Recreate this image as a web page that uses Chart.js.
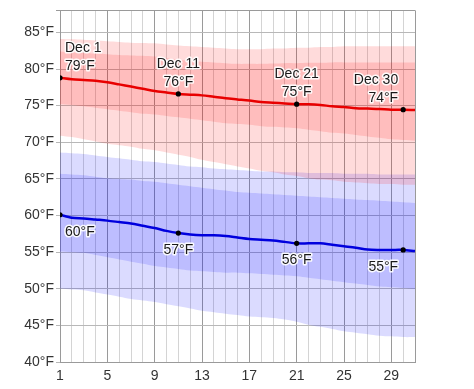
<!DOCTYPE html>
<html>
<head>
<meta charset="utf-8">
<script src="https://cdn.jsdelivr.net/npm/chart.js@4.4.1/dist/chart.umd.min.js"></script>
<style>
  html, body { margin: 0; padding: 0; background: #fff; }
  #chart { display: block; }
</style>
</head>
<body>
<canvas id="chart" width="474" height="389"></canvas>
<script>
// days of December
const days = [];
for (let d = 1; d <= 31; d++) days.push(d);

// average daily high / low (°F)
const highAvg = [78.8,78.6,78.5,78.4,78.2,77.9,77.6,77.3,77.0,76.8,76.6,76.5,76.4,76.2,76.0,75.85,75.7,75.5,75.4,75.3,75.2,75.2,75.1,74.9,74.8,74.65,74.6,74.55,74.45,74.45,74.4];
const lowAvg = [60.1,59.7,59.6,59.45,59.3,59.1,58.9,58.6,58.3,57.9,57.6,57.4,57.3,57.3,57.2,57.0,56.8,56.7,56.6,56.4,56.2,56.2,56.2,56.0,55.8,55.6,55.35,55.3,55.3,55.3,55.15];

// percentile bands
const highP90 = [84.1,84.05,84.0,83.9,83.8,83.7,83.6,83.55,83.5,83.35,83.2,83.1,83.0,82.9,82.8,82.7,82.7,82.7,82.8,82.8,82.9,82.9,83.0,83.0,83.1,83.1,83.1,83.1,83.1,83.1,83.1];
const highP75 = [82.4,82.3,82.2,82.1,82.0,81.9,81.85,81.8,81.7,81.5,81.3,81.1,81.0,80.9,80.8,80.7,80.7,80.7,80.75,80.8,80.8,80.85,80.85,80.9,80.9,80.9,80.9,80.9,80.9,80.9,80.9];
const highP25 = [75.2,75.1,74.9,74.7,74.5,74.3,74.1,73.9,73.8,73.6,73.4,73.2,73.0,72.8,72.6,72.5,72.4,72.2,72.1,72.0,71.9,71.7,71.5,71.3,71.2,71.0,70.8,70.6,70.4,70.3,70.2];
const highP10 = [70.9,70.7,70.4,70.1,69.8,69.6,69.4,69.1,68.9,68.6,68.3,68.0,67.6,67.3,67.0,66.7,66.4,66.1,65.9,65.6,65.4,65.1,64.9,64.8,64.6,64.5,64.4,64.3,64.3,64.2,64.2];
const lowP90 = [68.6,68.5,68.4,68.2,68.0,67.8,67.6,67.4,67.3,67.1,66.9,66.7,66.6,66.4,66.3,66.2,66.1,66.0,66.0,65.9,65.9,65.8,65.8,65.8,65.7,65.7,65.7,65.6,65.6,65.6,65.6];
const lowP75 = [65.7,65.6,65.5,65.3,65.1,65.0,64.9,64.7,64.6,64.4,64.2,64.0,63.8,63.6,63.4,63.2,63.1,63.0,62.9,62.8,62.7,62.6,62.5,62.4,62.3,62.2,62.1,62.0,61.9,61.8,61.7];
const lowP25 = [55.1,55.0,54.9,54.6,54.3,54.0,53.7,53.4,53.1,52.9,52.7,52.5,52.4,52.3,52.2,52.2,52.1,52.0,51.9,51.8,51.7,51.5,51.3,51.1,50.9,50.7,50.5,50.3,50.2,50.1,50.0];
const lowP10 = [50.0,49.9,49.8,49.5,49.2,48.9,48.6,48.4,48.2,47.9,47.6,47.3,47.0,46.8,46.6,46.4,46.2,46.1,46.0,45.8,45.5,45.1,44.8,44.5,44.2,44.0,43.8,43.6,43.5,43.4,43.4];

// marked days and their labels
const markDays = [1, 11, 21, 30];
const markNames = ["Dec 1", "Dec 11", "Dec 21", "Dec 30"];
const highLabels = ["79°F", "76°F", "75°F", "74°F"];
const lowLabels = ["60°F", "57°F", "56°F", "55°F"];
const markAlign = ["left", "center", "center", "right"];

const FONT = "'Liberation Sans', Arial, sans-serif";

const pts = arr => arr.map((v, i) => ({ x: days[i], y: v }));
const markRadius = days.map(d => markDays.includes(d) ? 2.6 : 0);

function band(data, target, color) {
  return {
    data: pts(data),
    borderWidth: 0,
    pointRadius: 0,
    tension: 0.4,
    fill: target === null ? false : { target: target },
    backgroundColor: color
  };
}

// text labels with a white halo
const labelPlugin = {
  id: "labels",
  afterDatasetsDraw(chart) {
    const ctx = chart.ctx;
    const xs = chart.scales.x, ys = chart.scales.y;
    ctx.save();
    ctx.font = "14px " + FONT;
    ctx.lineJoin = "round";
    const put = (txt, x, y, align) => {
      ctx.textAlign = align;
      ctx.textBaseline = "alphabetic";
      ctx.strokeStyle = "rgba(255,255,255,0.9)";
      ctx.lineWidth = 3;
      ctx.strokeText(txt, x, y);
      ctx.fillStyle = "#1a1a1a";
      ctx.fillText(txt, x, y);
    };
    markDays.forEach((d, i) => {
      const idx = days.indexOf(d);
      let px = xs.getPixelForValue(d);
      const align = markAlign[i];
      if (align === "left") px += 5;
      if (align === "right") px -= 5;
      const hy = ys.getPixelForValue(highAvg[idx]);
      const ly = ys.getPixelForValue(lowAvg[idx]);
      put(markNames[i], px, hy - 26, align);
      put(highLabels[i], px, hy - 8, align);
      put(lowLabels[i], px, ly + 21, align);
    });
    ctx.restore();
  }
};

new Chart(document.getElementById("chart"), {
  type: "line",
  data: {
    datasets: [
      {
        data: pts(highAvg),
        borderColor: "#e80000",
        borderWidth: 2.5,
        tension: 0.3,
        fill: false,
        pointRadius: markRadius,
        pointBackgroundColor: "#000",
        pointBorderWidth: 0
      },
      {
        data: pts(lowAvg),
        borderColor: "#0000dd",
        borderWidth: 2.5,
        tension: 0.3,
        fill: false,
        pointRadius: markRadius,
        pointBackgroundColor: "#000",
        pointBorderWidth: 0
      },
      band(highP90, 3, "rgba(255,0,0,0.14)"),
      band(highP10, null),
      band(highP75, 5, "rgba(255,0,0,0.14)"),
      band(highP25, null),
      band(lowP90, 7, "rgba(0,0,255,0.14)"),
      band(lowP10, null),
      band(lowP75, 9, "rgba(0,0,255,0.14)"),
      band(lowP25, null)
    ]
  },
  options: {
    responsive: false,
    animation: false,
    layout: { padding: { left: 0, right: 59, top: 7, bottom: 0 } },
    plugins: { legend: { display: false }, tooltip: { enabled: false } },
    scales: {
      x: {
        type: "linear",
        min: 1,
        max: 31,
        afterFit: s => { s.height = 27; },
        ticks: {
          stepSize: 1,
          maxTicksLimit: 40,
          autoSkip: false,
          maxRotation: 0,
          padding: 6,
          color: "#333",
          font: { family: FONT, size: 14 },
          callback: v => ((v - 1) % 4 === 0 && v < 31) ? String(v) : ""
        },
        grid: {
          drawTicks: false,
          color: c => {
            const v = c.tick ? c.tick.value : 0;
            if (v === 31) return "#9a9a9a";
            return (v - 1) % 4 === 0 ? "#9a9a9a" : "#d4d4d4";
          }
        },
        border: { color: "#9a9a9a" }
      },
      y: {
        min: 40,
        max: 88,
        afterFit: s => { s.width = 60; },
        ticks: {
          stepSize: 5,
          padding: 2,
          color: "#333",
          font: { family: FONT, size: 14 },
          callback: v => v % 5 === 0 ? v + "°F" : ""
        },
        grid: {
          tickLength: 4,
          color: c => (c.tick && c.tick.value === 88) ? "#9a9a9a" : "#b8b8b8"
        },
        border: { color: "#9a9a9a" }
      }
    }
  },
  plugins: [labelPlugin]
});
</script>
</body>
</html>
